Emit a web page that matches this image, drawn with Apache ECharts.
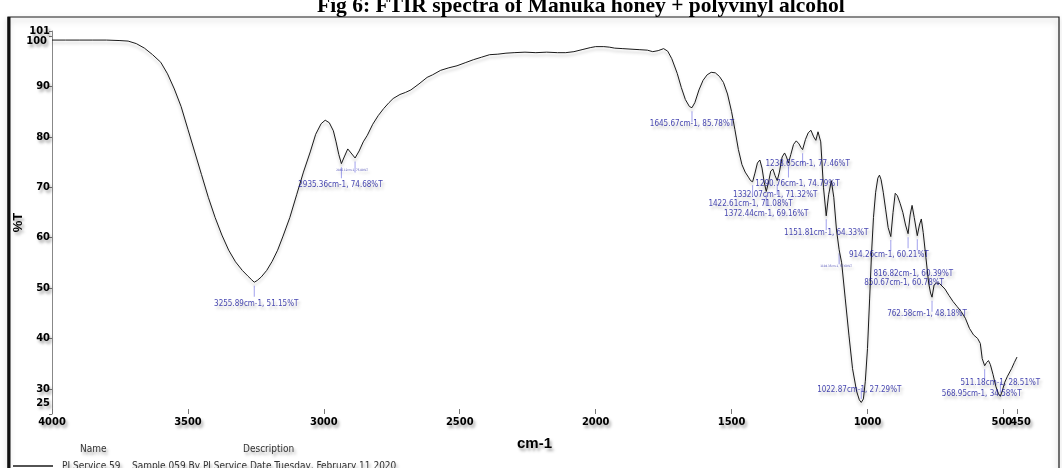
<!DOCTYPE html>
<html>
<head>
<meta charset="utf-8">
<script src="https://cdn.jsdelivr.net/npm/echarts@6/dist/echarts.min.js"></script>
<style>
html, body { margin: 0; padding: 0; background: #fff; }
#chart { width: 1062px; height: 468px; }
</style>
</head>
<body>
<div id="chart"></div>
<script>
// FTIR transmission spectrum, wavenumber (cm-1) vs %T
const wavenumbers = [
  4000, 3950, 3900, 3850, 3800, 3750, 3720, 3690, 3660, 3630, 3600, 3575, 3550, 3525, 3500,
  3475, 3450, 3425, 3400, 3375, 3350, 3325, 3300, 3280, 3265, 3255.89, 3245, 3230, 3210, 3190,
  3170, 3150, 3125, 3100, 3075, 3050, 3030, 3010, 2995, 2980, 2965, 2955, 2945, 2935.36, 2925,
  2912, 2900, 2885, 2870, 2855, 2840, 2820, 2800, 2780, 2760, 2745, 2720, 2700, 2680, 2650,
  2620, 2600, 2570, 2540, 2510, 2480, 2450, 2420, 2390, 2360, 2330, 2300, 2260, 2220, 2180,
  2140, 2110, 2080, 2050, 2020, 2000, 1970, 1950, 1930, 1900, 1870, 1840, 1810, 1790, 1770,
  1750, 1735, 1720, 1700, 1685, 1670, 1655, 1645.67, 1635, 1620, 1605, 1590, 1575, 1560, 1545,
  1530, 1515, 1500, 1488, 1475, 1462, 1450, 1438, 1430, 1422.61, 1414, 1405, 1396, 1388, 1380,
  1372.44, 1364, 1356, 1348, 1340, 1332.07, 1324, 1314, 1305, 1298, 1290.76, 1282, 1272, 1262, 1252,
  1245, 1238.65, 1228, 1218, 1208, 1198, 1190, 1182, 1172, 1162, 1151.81, 1143, 1133, 1124, 1114,
  1104.35, 1095, 1082, 1068, 1055, 1040, 1030, 1022.87, 1015, 1008, 1000, 992, 985, 978, 970,
  962, 956, 950, 942, 933, 924, 914.26, 906, 898, 890, 880, 870, 860, 850.67, 843,
  836, 828, 816.82, 809, 802, 795, 785, 775, 768, 762.58, 755, 746, 735, 715, 700,
  685, 670, 655, 640, 625, 610, 595, 585, 578, 568.95, 562, 555, 548, 538, 528,
  518, 511.18, 503, 495, 485, 470, 460, 450
];
const transmittance = [
  99.2, 99.2, 99.2, 99.2, 99.2, 99.1, 99.0, 98.5, 97.6, 96.3, 94.8, 92.5, 89.5, 86.0, 81.5,
  77.0, 72.5, 68.0, 64.0, 60.5, 57.5, 55.2, 53.5, 52.4, 51.6, 51.15, 51.5, 52.2, 53.5, 55.3,
  57.5, 60.3, 64.0, 68.5, 73.0, 77.0, 80.5, 82.6, 83.3, 82.8, 81.2, 79.0, 76.5, 74.68, 76.0,
  77.6, 76.8, 75.8, 77.2, 79.0, 80.3, 82.5, 84.2, 85.6, 86.8, 87.6, 88.4, 88.8, 89.3, 90.5,
  91.8, 92.3, 93.2, 93.7, 94.1, 94.7, 95.3, 95.8, 96.3, 96.4, 96.6, 96.7, 96.8, 96.7, 96.8,
  96.7, 96.7, 96.9, 97.3, 97.7, 97.9, 97.9, 97.8, 97.6, 97.5, 97.4, 97.3, 97.2, 96.9, 97.1,
  97.5, 97.0, 95.5, 92.6, 89.8, 87.4, 86.0, 85.78, 86.8, 89.3, 91.2, 92.3, 92.8, 92.7, 92.0,
  90.8, 88.5, 85.0, 81.5, 77.5, 74.5, 73.0, 72.0, 71.3, 71.08, 72.8, 74.8, 75.4, 73.8, 71.0,
  69.16, 71.0, 73.2, 73.6, 72.3, 71.32, 73.0, 76.0, 76.8, 76.0, 74.79, 76.5, 78.5, 79.2, 78.6,
  77.9, 77.46, 79.5, 80.8, 81.3, 80.0, 79.3, 81.0, 79.0, 70.0, 64.33, 68.5, 71.3, 68.0, 61.5,
  57.6, 55.0, 48.0, 40.5, 34.0, 29.5, 27.8, 27.29, 28.0, 31.5, 38.0, 48.0, 57.0, 64.0, 69.0,
  71.8, 72.4, 71.5, 69.0, 65.5, 62.0, 60.21, 65.0, 68.8, 68.3, 66.8, 65.0, 62.5, 60.78, 64.5,
  66.4, 64.0, 60.39, 62.5, 63.7, 61.0, 56.0, 51.0, 49.0, 48.18, 50.6, 51.0, 50.9, 49.8, 48.5,
  47.3, 46.3, 45.3, 44.0, 42.0, 40.7, 40.0, 39.0, 36.0, 34.58, 35.2, 35.6, 34.8, 32.8, 30.5,
  29.0, 28.51, 29.8, 31.3, 32.5, 34.0, 35.2, 36.3
];

// picked absorption bands
const peakWavenumbers = [3255.89, 2935.36, 2885.12, 1645.67, 1238.65, 1290.76, 1332.07, 1422.61,
  1372.44, 1151.81, 1104.35, 914.26, 816.82, 850.67, 762.58, 1022.87, 511.18, 568.95];
const peakTransmittance = [51.15, 74.68, 75.80, 85.78, 77.46, 74.79, 71.32, 71.08,
  69.16, 64.33, 57.60, 60.21, 60.39, 60.78, 48.18, 27.29, 28.51, 34.58];
// bands whose annotation is printed squashed (overprinted) in the report
const squashedPeaks = [2885.12, 1104.35];

// axis ticks; the crowded ones (500 next to 450, 100 under 101) get their own label axis
const xTickValues = [4000, 3500, 3000, 2500, 2000, 1500, 1000, 500, 450];
const xCrowdedTicks = [500];
const yTickValues = [25, 30, 40, 50, 60, 70, 80, 90, 100, 101];
const yCrowdedTicks = [100];

const sampleName = 'PI Service 59';
const sampleDescription = 'Sample 059 By PI Service Date Tuesday, February 11 2020';
const chartTitle = 'Fig 6: FTIR spectra of Manuka honey + polyvinyl alcohol';

// annotation placement: label offset from the band minimum, leader tick above (-1) or below (1)
const peakLabelLayout = [
  [2, 22, 1], [-1, 21, 1], [-3, 12, 1], [0, 16, 1], [5, 14, 1], [9, 21, 1], [-2, 14, 1], [-2, 22, 1],
  [0, 22, 1], [0, 17, 1], [-3, 17, 1], [-2, 18, 1], [-4, 38, 1], [-4, 49, 1], [-5, 17, 1],
  [-2, -13, -1], [0, -13, -1], [-3, 28, 1]
];

const narrowFont = "'Liberation Sans Narrow', 'DejaVu Sans Condensed', 'Arial Narrow', sans-serif";
const softShadow = {
  textShadowColor: 'rgba(0,0,0,0.35)',
  textShadowBlur: 3,
  textShadowOffsetX: 2,
  textShadowOffsetY: 3
};

const spectrum = wavenumbers.map((w, i) => [w, transmittance[i]]);

const peakTicks = peakWavenumbers.map((w, i) => ({
  value: [w, peakTransmittance[i]],
  symbolOffset: [0, 9 * peakLabelLayout[i][2]]
}));

const peakLabels = peakWavenumbers.map((w, i) => {
  const squashed = squashedPeaks.includes(w);
  return {
    value: [w, peakTransmittance[i]],
    label: {
      offset: [peakLabelLayout[i][0], peakLabelLayout[i][1]],
      fontSize: squashed ? 3 : 8,
      lineHeight: squashed ? 3 : 9
    }
  };
});

const tickLabelStyle = Object.assign({
  fontFamily: narrowFont,
  fontWeight: 'bold',
  fontSize: 11,
  color: '#000'
}, softShadow);

const chart = echarts.init(document.getElementById('chart'), null, { renderer: 'canvas' });

chart.setOption({
  backgroundColor: '#ffffff',
  animation: false,
  title: [
    {
      text: chartTitle,
      left: 312,
      top: -10,
      textStyle: { fontFamily: "'Liberation Serif', 'DejaVu Serif', serif", fontWeight: 'bold', fontSize: 21.5, color: '#000' }
    },
    {
      text: 'Name',
      left: 75,
      top: 439,
      textStyle: Object.assign({ fontFamily: narrowFont, fontWeight: 'normal', fontSize: 10, color: '#333' }, softShadow)
    },
    {
      text: 'Description',
      left: 238,
      top: 439,
      textStyle: Object.assign({ fontFamily: narrowFont, fontWeight: 'normal', fontSize: 10, color: '#333' }, softShadow)
    }
  ],
  legend: {
    data: [{ name: sampleName, icon: 'rect' }],
    left: 8,
    top: 456,
    itemWidth: 40,
    itemHeight: 1.5,
    itemGap: 0,
    formatter: name => name + '    ' + sampleDescription,
    textStyle: Object.assign({ fontFamily: narrowFont, fontSize: 10, color: '#333', padding: [0, 0, 0, 4] }, softShadow)
  },
  graphic: [
    {
      type: 'rect',
      z: -10,
      shape: { x: 8, y: 17, width: 1051, height: 470 },
      style: { fill: 'none', stroke: '#1a1a1a', lineWidth: 1.2, shadowBlur: 6, shadowColor: 'rgba(0,0,0,0.35)', shadowOffsetY: 3 }
    },
    {
      type: 'line',
      z: -10,
      shape: { x1: 9, y1: 17, x2: 9, y2: 468 },
      style: { stroke: '#111', lineWidth: 3 }
    }
  ],
  grid: { left: 52, right: 45, top: 31, bottom: 54, containLabel: false },
  xAxis: [
    {
      type: 'value',
      inverse: true,
      min: 450,
      max: 4000,
      name: 'cm-1',
      nameLocation: 'middle',
      nameGap: 22,
      nameTextStyle: Object.assign({ fontFamily: "'Liberation Sans', Arial, sans-serif", fontWeight: 'bold', fontSize: 15, color: '#000' }, softShadow),
      axisLine: { show: false },
      splitLine: { show: false },
      axisTick: { show: true, inside: true, length: 5, customValues: xTickValues, lineStyle: { color: '#777', width: 1 } },
      axisLabel: Object.assign({
        customValues: xTickValues.filter(v => !xCrowdedTicks.includes(v)),
        formatter: v => (v === 450 ? '{nudged|' + v + '}' : String(v)),
        rich: { nudged: { padding: [0, 0, 0, 7] } },
        margin: 3
      }, tickLabelStyle)
    },
    {
      type: 'value',
      position: 'bottom',
      inverse: true,
      min: 450,
      max: 4000,
      axisLine: { show: false },
      splitLine: { show: false },
      axisTick: { show: false },
      axisLabel: Object.assign({
        customValues: xCrowdedTicks,
        formatter: v => '{nudged|' + v + '}',
        rich: { nudged: { padding: [0, 3, 0, 0] } },
        margin: 3
      }, tickLabelStyle)
    }
  ],
  yAxis: [
    {
      type: 'value',
      min: 25,
      max: 101,
      name: '%T',
      nameLocation: 'middle',
      nameGap: 27,
      nameRotate: 90,
      nameMoveOverlap: false,
      nameTextStyle: Object.assign({ fontFamily: "'Liberation Sans', Arial, sans-serif", fontWeight: 'bold', fontSize: 13, color: '#000' }, softShadow),
      axisLine: { show: true, lineStyle: { color: '#888', width: 1 } },
      splitLine: { show: false },
      axisTick: { show: true, length: 3, customValues: yTickValues, lineStyle: { color: '#777', width: 1 } },
      axisLabel: Object.assign({
        customValues: yTickValues.filter(v => !yCrowdedTicks.includes(v)),
        formatter: v => (v === 25 ? '{lifted|' + v + '}' : String(v)),
        rich: { lifted: { padding: [0, 0, 22, 0] } },
        margin: 2
      }, tickLabelStyle)
    },
    {
      type: 'value',
      position: 'left',
      min: 25,
      max: 101,
      axisLine: { show: false },
      splitLine: { show: false },
      axisTick: { show: false },
      axisLabel: Object.assign({
        customValues: yCrowdedTicks,
        formatter: v => '{lowered|' + v + '}',
        rich: { lowered: { padding: [10, 0, 0, 0] } },
        margin: 5
      }, tickLabelStyle)
    }
  ],
  series: [
    {
      name: sampleName,
      type: 'line',
      data: spectrum,
      showSymbol: false,
      smooth: false,
      color: '#1a1a1a',
      lineStyle: { color: '#1a1a1a', width: 1, shadowColor: 'rgba(0,0,0,0.25)', shadowBlur: 3, shadowOffsetY: 3 },
      z: 3
    },
    {
      name: 'band ticks',
      type: 'scatter',
      data: peakTicks,
      symbol: 'rect',
      symbolSize: [1, 11],
      itemStyle: { color: '#8a8ae8' },
      silent: true,
      z: 2
    },
    {
      name: 'band labels',
      type: 'scatter',
      data: peakLabels,
      symbol: 'circle',
      symbolSize: 0,
      silent: true,
      z: 4,
      label: {
        show: true,
        position: 'inside',
        formatter: p => p.value[0].toFixed(2) + 'cm-1, ' + p.value[1].toFixed(2) + '%T',
        fontFamily: narrowFont,
        fontSize: 8,
        color: '#14149c',
        textShadowColor: 'rgba(0,0,0,0.3)',
        textShadowBlur: 3,
        textShadowOffsetX: 2,
        textShadowOffsetY: 3
      }
    }
  ]
});
</script>
</body>
</html>
